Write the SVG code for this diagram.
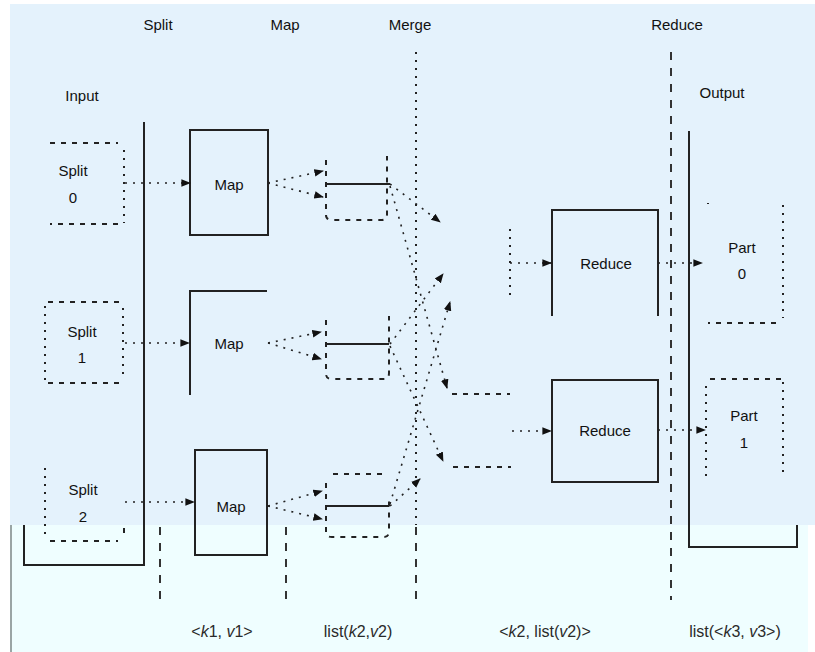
<svg xmlns="http://www.w3.org/2000/svg" width="815" height="652" viewBox="0 0 815 652">
<defs>
<style>
text{font-family:"Liberation Sans","DejaVu Sans",sans-serif;font-size:15px;fill:#111;text-anchor:middle}
.lbl{font-size:16px;fill:#2a2a2a}
.box{fill:none;stroke:#222;stroke-width:2}
.dash{fill:none;stroke:#222;stroke-width:2;stroke-dasharray:5 6}
.dot{fill:none;stroke:#222;stroke-width:2;stroke-dasharray:2 6}
.vdash{fill:none;stroke:#333;stroke-width:2;stroke-dasharray:8 8}
.conn{fill:none;stroke:#222;stroke-width:1.6;stroke-dasharray:2 6}
</style>
<marker id="ah" viewBox="0 0 10 10" refX="9" refY="5" markerWidth="6" markerHeight="6" orient="auto">
<path d="M0,1 L10,5 L0,9 z" fill="#111"/>
</marker>
</defs>
<rect x="0" y="0" width="815" height="652" fill="#ffffff"/>
<rect x="10" y="525" width="798" height="127" fill="#effeff"/>
<line x1="11" y1="525" x2="11" y2="652" stroke="#9aa5a5" stroke-width="2"/>
<rect x="10" y="4" width="805" height="521" fill="#e4f2fc"/>

<g id="titles">
<text x="158" y="30">Split</text>
<text x="285" y="30">Map</text>
<text x="410" y="30">Merge</text>
<text x="677" y="30">Reduce</text>
<text x="82" y="101">Input</text>
<text x="722" y="98">Output</text>
</g>

<g id="phase-lines">
<line x1="416" y1="52" x2="416" y2="525" class="dot"/>
<line x1="671" y1="52" x2="671" y2="600" class="vdash"/>
<line x1="160" y1="527" x2="160" y2="600" class="vdash"/>
<line x1="286" y1="527" x2="286" y2="600" class="vdash"/>
<line x1="416" y1="527" x2="416" y2="600" class="vdash"/>
</g>

<g id="input">
<path d="M144,122 V565 H24 V525" class="box"/>
</g>
<g id="split0">
<path d="M50,143 H118 M118,224 H50" class="dash"/>
<path d="M124,150 V223" class="dot"/>
<text x="73" y="176">Split</text>
<text x="73" y="203">0</text>
</g>
<g id="split1">
<path d="M48,302 H122 M48,383 H120" class="dash"/>
<path d="M45,306 V382 M123,308 V380" class="dot"/>
<text x="82" y="337">Split</text>
<text x="82" y="363">1</text>
</g>
<g id="split2">
<path d="M50,541 H118 M124,528 V538" class="dash"/>
<path d="M45,468 V536" class="dot"/>
<text x="83" y="495">Split</text>
<text x="83" y="522">2</text>
</g>

<g id="map0">
<rect x="190" y="130" width="78" height="105" class="box"/>
<text x="229" y="190">Map</text>
</g>
<g id="map1">
<path d="M267,291 H190 V395" class="box"/>
<text x="229" y="349">Map</text>
</g>
<g id="map2">
<rect x="195" y="450" width="72" height="105" class="box"/>
<text x="231" y="512">Map</text>
</g>

<g id="part-m0">
<path d="M326,160 V215 Q326,220 332,220 H382 Q387,220 387,214 V156" class="dash"/>
<line x1="326" y1="184" x2="390" y2="184" class="box"/>
</g>
<g id="part-m1">
<path d="M326,320 V374 Q326,379 332,379 H384 Q389,379 389,373 V316" class="dash"/>
<line x1="326" y1="344" x2="389" y2="344" class="box"/>
</g>
<g id="part-m2">
<path d="M333,474 H385 M326,483 V532 Q326,537 332,537 H384 Q389,537 389,531 V500" class="dash"/>
<line x1="326" y1="506" x2="389" y2="506" class="box"/>
</g>

<g id="reduce0">
<path d="M552,316 V210 H658 V316" class="box"/>
<text x="606" y="269">Reduce</text>
</g>
<g id="reduce1">
<rect x="552" y="380" width="106" height="102" class="box"/>
<text x="605" y="436">Reduce</text>
</g>

<g id="output">
<path d="M689,131 V547 H797 V525" class="box"/>
</g>
<g id="part0">
<path d="M776,323 H708" class="dash"/>
<path d="M708,203 L708,204 M783,205 V318" class="dot"/>
<text x="742" y="253">Part</text>
<text x="742" y="279">0</text>
</g>
<g id="part1">
<path d="M710,379 H784" class="dash"/>
<path d="M706,386 V482 M783,382 V478" class="dot"/>
<text x="744" y="421">Part</text>
<text x="744" y="448">1</text>
</g>

<g id="connectors">
<line x1="125" y1="183" x2="190" y2="183" class="conn" marker-end="url(#ah)"/>
<line x1="125" y1="343" x2="189" y2="343" class="conn" marker-end="url(#ah)"/>
<line x1="125" y1="502" x2="194" y2="502" class="conn" marker-end="url(#ah)"/>
<line x1="268" y1="183" x2="323" y2="171" class="conn" marker-end="url(#ah)"/>
<line x1="268" y1="183" x2="323" y2="197" class="conn" marker-end="url(#ah)"/>
<line x1="268" y1="343" x2="321" y2="332" class="conn" marker-end="url(#ah)"/>
<line x1="268" y1="343" x2="321" y2="359" class="conn" marker-end="url(#ah)"/>
<line x1="268" y1="506" x2="322" y2="491" class="conn" marker-end="url(#ah)"/>
<line x1="268" y1="506" x2="322" y2="519" class="conn" marker-end="url(#ah)"/>
<line x1="390" y1="184" x2="440" y2="222" class="conn" marker-end="url(#ah)"/>
<line x1="390" y1="186" x2="447" y2="388" class="conn" marker-end="url(#ah)"/>
<line x1="390" y1="344" x2="443" y2="274" class="conn" marker-end="url(#ah)"/>
<line x1="390" y1="346" x2="443" y2="461" class="conn" marker-end="url(#ah)"/>
<line x1="390" y1="504" x2="450" y2="302" class="conn" marker-end="url(#ah)"/>
<line x1="390" y1="506" x2="420" y2="479" class="conn" marker-end="url(#ah)"/>
<line x1="510" y1="229" x2="510" y2="296" class="dot"/>
<line x1="510" y1="263" x2="551" y2="263" class="conn" marker-end="url(#ah)"/>
<line x1="452" y1="394" x2="510" y2="394" class="dash"/>
<line x1="453" y1="467" x2="511" y2="467" class="dash"/>
<line x1="512" y1="431" x2="551" y2="431" class="conn" marker-end="url(#ah)"/>
<line x1="658" y1="263" x2="702" y2="263" class="conn" marker-end="url(#ah)"/>
<line x1="658" y1="430" x2="705" y2="430" class="conn" marker-end="url(#ah)"/>
</g>

<g id="bottom-labels">
<text x="222" y="637" class="lbl">&lt;<tspan font-style="italic">k</tspan>1, <tspan font-style="italic">v</tspan>1&gt;</text>
<text x="358" y="637" class="lbl">list(<tspan font-style="italic">k</tspan>2,<tspan font-style="italic">v</tspan>2)</text>
<text x="545" y="637" class="lbl">&lt;<tspan font-style="italic">k</tspan>2, list(<tspan font-style="italic">v</tspan>2)&gt;</text>
<text x="735" y="637" class="lbl">list(&lt;<tspan font-style="italic">k</tspan>3, <tspan font-style="italic">v</tspan>3&gt;)</text>
</g>
</svg>
